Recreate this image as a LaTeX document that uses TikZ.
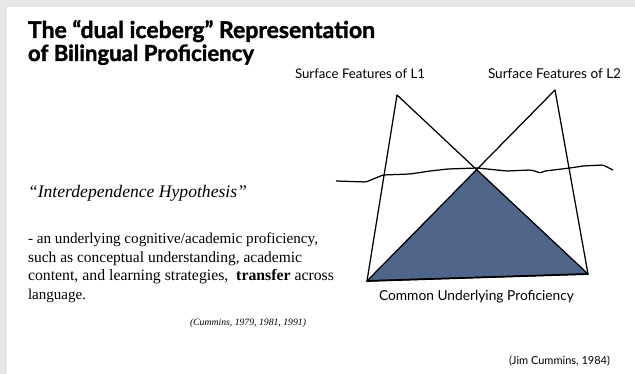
\documentclass[tikz,border=0pt]{standalone}
\usepackage{fontspec}
\usepackage{graphicx}
\setmainfont{Liberation Serif}
\newfontfamily\gillface{Lato}
\newfontfamily\gillheavy{Lato}[BoldFeatures={FakeBold=1.6}]
% set a line of text to an exact width (in pt)
\newcommand{\fitto}[2]{\resizebox{#1pt}{!}{#2}}
\definecolor{pagegray}{HTML}{E6E6E6}
\definecolor{cupblue}{HTML}{4F6589}

\begin{document}
\begin{tikzpicture}[x=1pt,y=-1pt,
  txt/.style={inner sep=0pt, outer sep=0pt, anchor=base west},
  edge/.style={draw=black, line width=1.25pt, line join=round, line cap=round},
  water/.style={draw=black, line width=1.25pt, line join=round, rounded corners=1.5pt}]
% page with grey frame on the left and top
\fill[white] (0,0) rectangle (635,374);
\fill[pagegray] (0,0) rectangle (7,374);
\fill[pagegray] (0,0) rectangle (635,7);
\useasboundingbox (0,0) rectangle (635,374);

% heading
\node[txt] (title1) at (28,38) {\fitto{347}{\gillheavy\bfseries The “dual iceberg” Representation}};
\node[txt] (title2) at (28,61) {\fitto{226}{\gillheavy\bfseries of Bilingual Proficiency}};

% left column
\node[txt] (hyp) at (28,198) {\fitto{219}{\itshape “Interdependence Hypothesis”}};
\node[txt] (body1) at (28,244) {\fitto{290}{- an underlying cognitive/academic proficiency,}};
\node[txt] (body2) at (28,263) {\fitto{274}{such as conceptual understanding, academic}};
\node[txt] (body3) at (28,281) {\fitto{306}{content, and learning strategies,\ \ \textbf{transfer} across}};
\node[txt] (body4) at (28,300) {\fitto{58}{language.}};
\node[txt] (cite1) at (190,326) {\fitto{116}{\itshape (Cummins, 1979, 1981, 1991)}};

% iceberg labels
\node[txt] (labA) at (295,79) {\fitto{130}{\gillface Surface Features of L1}};
\node[txt] (labB) at (488,79) {\fitto{133}{\gillface Surface Features of L2}};
\node[txt] (labC) at (379,301) {\fitto{195}{\gillface Common Underlying Proficiency}};
\node[txt] (cite2) at (509,365) {\fitto{101}{\gillface (Jim Cummins, 1984)}};

% the two icebergs sharing one base
\coordinate (apexA) at (397,95);
\coordinate (apexB) at (555,90);
\coordinate (bl) at (367,281);
\coordinate (br) at (588,274);
\coordinate (cross) at (intersection of apexA--br and apexB--bl);

\fill[cupblue] (cross) -- (bl) -- (br) -- cycle;
\draw[edge] (apexA) -- (bl) -- (br) -- cycle;
\draw[edge] (apexB) -- (bl);
\draw[edge] (apexB) -- (br);
\draw[edge, line width=1.7pt] (bl) -- (br);

% water line
\coordinate (wl) at (336,181);
\coordinate (wr) at (613,170);
\draw[water] (wl) -- (366,182) -- (383,175) -- (410,174) -- (430,171) -- (448,169)
  -- (477,168) -- (487,169) -- (507,171) -- (530,170) -- (535,171) -- (540,173)
  -- (545,171) -- (570,168) -- (583,166) -- (603,165) -- (wr);
\end{tikzpicture}
\end{document}
